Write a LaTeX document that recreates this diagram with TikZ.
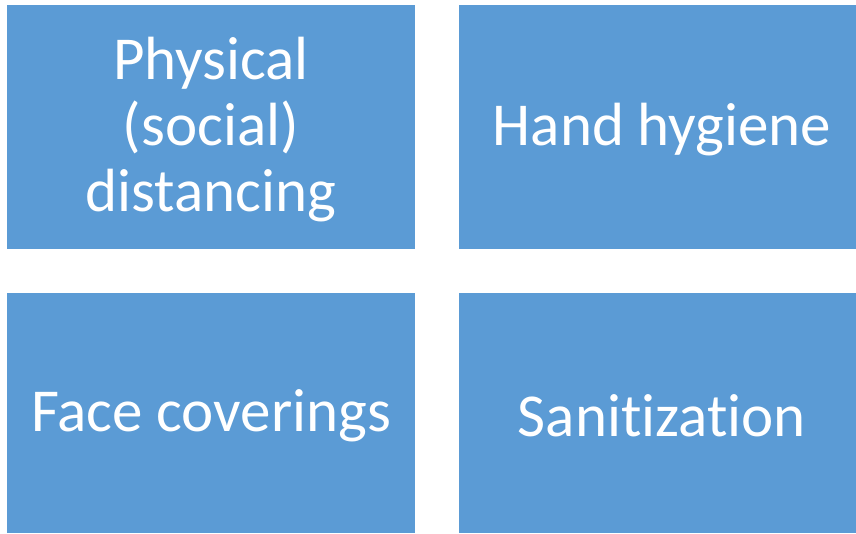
\documentclass[tikz,border=0pt]{standalone}
\usepackage{fontspec}
\setmainfont[RawFeature={-liga}]{Carlito}
\definecolor{boxblue}{HTML}{5B9BD5}
\begin{document}
\begin{tikzpicture}[x=1pt,y=-1pt,
  label text/.style={text=white, align=center, font=\fontsize{61}{66}\selectfont},
]
\useasboundingbox (0,0) rectangle (856,534);
\path[fill=boxblue] (7,5) rectangle (415,249);
\path[fill=boxblue] (459,5) rectangle (856,249);
\path[fill=boxblue] (7,293) rectangle (415,533);
\path[fill=boxblue] (459,293) rectangle (856,533);
\node[label text] (a) at (211,130) {Physical\\(social)\\distancing};
\node[label text] (b) at (662,130) {Hand hygiene};
\node[label text] (c) at (211,416) {Face coverings};
\node[label text] (d) at (662,416) {Sanitization};
\end{tikzpicture}
\end{document}
